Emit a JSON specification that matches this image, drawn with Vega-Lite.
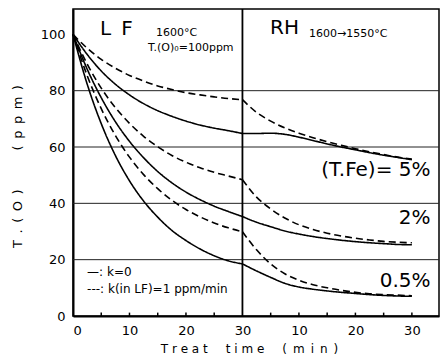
{
  "$schema": "https://vega.github.io/schema/vega-lite/v6.json",
  "width": 366,
  "height": 307,
  "autosize": {"type": "none"},
  "padding": {"left": 73, "top": 9, "right": 2, "bottom": 42},
  "background": "white",
  "config": {
    "view": {"stroke": "black", "strokeWidth": 1.5},
    "font": "DejaVu Sans",
    "axis": {"labelFont": "DejaVu Sans", "titleFont": "DejaVu Sans", "labelColor": "black", "titleColor": "black", "grid": false, "domainColor": "black", "tickColor": "black"}
  },
  "datasets": {
    "curves": [
      {"s":"s5","p":"LF","d":"solid","t":0,"v":100},{"s":"s5","p":"LF","d":"solid","t":2.5,"v":92.9},{"s":"s5","p":"LF","d":"solid","t":5,"v":87.0},{"s":"s5","p":"LF","d":"solid","t":7.5,"v":82.3},{"s":"s5","p":"LF","d":"solid","t":10,"v":78.5},{"s":"s5","p":"LF","d":"solid","t":12.5,"v":75.4},{"s":"s5","p":"LF","d":"solid","t":15,"v":72.9},{"s":"s5","p":"LF","d":"solid","t":17.5,"v":70.9},{"s":"s5","p":"LF","d":"solid","t":20,"v":69.2},{"s":"s5","p":"LF","d":"solid","t":22.5,"v":67.8},{"s":"s5","p":"LF","d":"solid","t":25,"v":66.7},{"s":"s5","p":"LF","d":"solid","t":27.5,"v":65.8},{"s":"s5","p":"LF","d":"solid","t":30,"v":64.8},
      {"s":"s5","p":"RH","d":"solid","t":30,"v":64.8},{"s":"s5","p":"RH","d":"solid","t":32.5,"v":64.8},{"s":"s5","p":"RH","d":"solid","t":35,"v":64.9},{"s":"s5","p":"RH","d":"solid","t":37.5,"v":64.5},{"s":"s5","p":"RH","d":"solid","t":40,"v":63.5},{"s":"s5","p":"RH","d":"solid","t":42.5,"v":62.3},{"s":"s5","p":"RH","d":"solid","t":45,"v":61.1},{"s":"s5","p":"RH","d":"solid","t":47.5,"v":60.0},{"s":"s5","p":"RH","d":"solid","t":50,"v":59.0},{"s":"s5","p":"RH","d":"solid","t":52.5,"v":58.0},{"s":"s5","p":"RH","d":"solid","t":55,"v":57.1},{"s":"s5","p":"RH","d":"solid","t":57.5,"v":56.3},{"s":"s5","p":"RH","d":"solid","t":60,"v":55.5},
      {"s":"d5","p":"LF","d":"dashed","t":0,"v":100},{"s":"d5","p":"LF","d":"dashed","t":2.5,"v":95.1},{"s":"d5","p":"LF","d":"dashed","t":5,"v":91.1},{"s":"d5","p":"LF","d":"dashed","t":7.5,"v":88.0},{"s":"d5","p":"LF","d":"dashed","t":10,"v":85.4},{"s":"d5","p":"LF","d":"dashed","t":12.5,"v":83.4},{"s":"d5","p":"LF","d":"dashed","t":15,"v":81.7},{"s":"d5","p":"LF","d":"dashed","t":17.5,"v":80.4},{"s":"d5","p":"LF","d":"dashed","t":20,"v":79.3},{"s":"d5","p":"LF","d":"dashed","t":22.5,"v":78.5},{"s":"d5","p":"LF","d":"dashed","t":25,"v":77.8},{"s":"d5","p":"LF","d":"dashed","t":27.5,"v":77.2},{"s":"d5","p":"LF","d":"dashed","t":30,"v":76.8},
      {"s":"d5","p":"RH","d":"dashed","t":30,"v":76.8},{"s":"d5","p":"RH","d":"dashed","t":32.5,"v":72.3},{"s":"d5","p":"RH","d":"dashed","t":35,"v":69.2},{"s":"d5","p":"RH","d":"dashed","t":37.5,"v":66.8},{"s":"d5","p":"RH","d":"dashed","t":40,"v":64.9},{"s":"d5","p":"RH","d":"dashed","t":42.5,"v":63.3},{"s":"d5","p":"RH","d":"dashed","t":45,"v":61.9},{"s":"d5","p":"RH","d":"dashed","t":47.5,"v":60.6},{"s":"d5","p":"RH","d":"dashed","t":50,"v":59.4},{"s":"d5","p":"RH","d":"dashed","t":52.5,"v":58.3},{"s":"d5","p":"RH","d":"dashed","t":55,"v":57.3},{"s":"d5","p":"RH","d":"dashed","t":57.5,"v":56.4},{"s":"d5","p":"RH","d":"dashed","t":60,"v":55.7},
      {"s":"s2","p":"LF","d":"solid","t":0,"v":100},{"s":"s2","p":"LF","d":"solid","t":2.5,"v":87.7},{"s":"s2","p":"LF","d":"solid","t":5,"v":77.5},{"s":"s2","p":"LF","d":"solid","t":7.5,"v":69.0},{"s":"s2","p":"LF","d":"solid","t":10,"v":62.0},{"s":"s2","p":"LF","d":"solid","t":12.5,"v":56.2},{"s":"s2","p":"LF","d":"solid","t":15,"v":51.3},{"s":"s2","p":"LF","d":"solid","t":17.5,"v":47.3},{"s":"s2","p":"LF","d":"solid","t":20,"v":44.0},{"s":"s2","p":"LF","d":"solid","t":22.5,"v":41.3},{"s":"s2","p":"LF","d":"solid","t":25,"v":39.0},{"s":"s2","p":"LF","d":"solid","t":27.5,"v":37.1},{"s":"s2","p":"LF","d":"solid","t":30,"v":35.3},
      {"s":"s2","p":"RH","d":"solid","t":30,"v":35.3},{"s":"s2","p":"RH","d":"solid","t":32.5,"v":33.3},{"s":"s2","p":"RH","d":"solid","t":35,"v":31.7},{"s":"s2","p":"RH","d":"solid","t":37.5,"v":30.2},{"s":"s2","p":"RH","d":"solid","t":40,"v":29.1},{"s":"s2","p":"RH","d":"solid","t":42.5,"v":28.2},{"s":"s2","p":"RH","d":"solid","t":45,"v":27.5},{"s":"s2","p":"RH","d":"solid","t":47.5,"v":26.9},{"s":"s2","p":"RH","d":"solid","t":50,"v":26.4},{"s":"s2","p":"RH","d":"solid","t":52.5,"v":26.0},{"s":"s2","p":"RH","d":"solid","t":55,"v":25.7},{"s":"s2","p":"RH","d":"solid","t":57.5,"v":25.4},{"s":"s2","p":"RH","d":"solid","t":60,"v":25.3},
      {"s":"d2","p":"LF","d":"dashed","t":0,"v":100},{"s":"d2","p":"LF","d":"dashed","t":2.5,"v":89.5},{"s":"d2","p":"LF","d":"dashed","t":5,"v":80.9},{"s":"d2","p":"LF","d":"dashed","t":7.5,"v":74.0},{"s":"d2","p":"LF","d":"dashed","t":10,"v":68.4},{"s":"d2","p":"LF","d":"dashed","t":12.5,"v":63.8},{"s":"d2","p":"LF","d":"dashed","t":15,"v":60.1},{"s":"d2","p":"LF","d":"dashed","t":17.5,"v":57.0},{"s":"d2","p":"LF","d":"dashed","t":20,"v":54.6},{"s":"d2","p":"LF","d":"dashed","t":22.5,"v":52.6},{"s":"d2","p":"LF","d":"dashed","t":25,"v":51.0},{"s":"d2","p":"LF","d":"dashed","t":27.5,"v":49.7},{"s":"d2","p":"LF","d":"dashed","t":30,"v":48.4},
      {"s":"d2","p":"RH","d":"dashed","t":30,"v":48.4},{"s":"d2","p":"RH","d":"dashed","t":32.5,"v":42.2},{"s":"d2","p":"RH","d":"dashed","t":35,"v":38.0},{"s":"d2","p":"RH","d":"dashed","t":37.5,"v":34.8},{"s":"d2","p":"RH","d":"dashed","t":40,"v":32.4},{"s":"d2","p":"RH","d":"dashed","t":42.5,"v":30.7},{"s":"d2","p":"RH","d":"dashed","t":45,"v":29.4},{"s":"d2","p":"RH","d":"dashed","t":47.5,"v":28.4},{"s":"d2","p":"RH","d":"dashed","t":50,"v":27.6},{"s":"d2","p":"RH","d":"dashed","t":52.5,"v":27.0},{"s":"d2","p":"RH","d":"dashed","t":55,"v":26.5},{"s":"d2","p":"RH","d":"dashed","t":57.5,"v":26.2},{"s":"d2","p":"RH","d":"dashed","t":60,"v":26.0},
      {"s":"s05","p":"LF","d":"solid","t":0,"v":100},{"s":"s05","p":"LF","d":"solid","t":2.5,"v":82.4},{"s":"s05","p":"LF","d":"solid","t":5,"v":68.3},{"s":"s05","p":"LF","d":"solid","t":7.5,"v":57.0},{"s":"s05","p":"LF","d":"solid","t":10,"v":48.0},{"s":"s05","p":"LF","d":"solid","t":12.5,"v":40.8},{"s":"s05","p":"LF","d":"solid","t":15,"v":35.1},{"s":"s05","p":"LF","d":"solid","t":17.5,"v":30.4},{"s":"s05","p":"LF","d":"solid","t":20,"v":26.8},{"s":"s05","p":"LF","d":"solid","t":22.5,"v":23.8},{"s":"s05","p":"LF","d":"solid","t":25,"v":21.4},{"s":"s05","p":"LF","d":"solid","t":27.5,"v":19.6},{"s":"s05","p":"LF","d":"solid","t":30,"v":18.5},
      {"s":"s05","p":"RH","d":"solid","t":30,"v":18.5},{"s":"s05","p":"RH","d":"solid","t":32.5,"v":16.0},{"s":"s05","p":"RH","d":"solid","t":35,"v":13.7},{"s":"s05","p":"RH","d":"solid","t":37.5,"v":11.6},{"s":"s05","p":"RH","d":"solid","t":40,"v":10.3},{"s":"s05","p":"RH","d":"solid","t":42.5,"v":9.5},{"s":"s05","p":"RH","d":"solid","t":45,"v":8.9},{"s":"s05","p":"RH","d":"solid","t":47.5,"v":8.4},{"s":"s05","p":"RH","d":"solid","t":50,"v":8.0},{"s":"s05","p":"RH","d":"solid","t":52.5,"v":7.6},{"s":"s05","p":"RH","d":"solid","t":55,"v":7.3},{"s":"s05","p":"RH","d":"solid","t":57.5,"v":7.1},{"s":"s05","p":"RH","d":"solid","t":60,"v":7.0},
      {"s":"d05","p":"LF","d":"dashed","t":0,"v":100},{"s":"d05","p":"LF","d":"dashed","t":2.5,"v":85.4},{"s":"d05","p":"LF","d":"dashed","t":5,"v":73.6},{"s":"d05","p":"LF","d":"dashed","t":7.5,"v":64.1},{"s":"d05","p":"LF","d":"dashed","t":10,"v":56.4},{"s":"d05","p":"LF","d":"dashed","t":12.5,"v":50.2},{"s":"d05","p":"LF","d":"dashed","t":15,"v":45.2},{"s":"d05","p":"LF","d":"dashed","t":17.5,"v":41.1},{"s":"d05","p":"LF","d":"dashed","t":20,"v":37.8},{"s":"d05","p":"LF","d":"dashed","t":22.5,"v":35.2},{"s":"d05","p":"LF","d":"dashed","t":25,"v":33.0},{"s":"d05","p":"LF","d":"dashed","t":27.5,"v":31.3},{"s":"d05","p":"LF","d":"dashed","t":30,"v":29.9},
      {"s":"d05","p":"RH","d":"dashed","t":30,"v":29.9},{"s":"d05","p":"RH","d":"dashed","t":32.5,"v":23.5},{"s":"d05","p":"RH","d":"dashed","t":35,"v":18.5},{"s":"d05","p":"RH","d":"dashed","t":37.5,"v":15.0},{"s":"d05","p":"RH","d":"dashed","t":40,"v":12.7},{"s":"d05","p":"RH","d":"dashed","t":42.5,"v":11.1},{"s":"d05","p":"RH","d":"dashed","t":45,"v":10.0},{"s":"d05","p":"RH","d":"dashed","t":47.5,"v":9.1},{"s":"d05","p":"RH","d":"dashed","t":50,"v":8.4},{"s":"d05","p":"RH","d":"dashed","t":52.5,"v":7.9},{"s":"d05","p":"RH","d":"dashed","t":55,"v":7.6},{"s":"d05","p":"RH","d":"dashed","t":57.5,"v":7.4},{"s":"d05","p":"RH","d":"dashed","t":60,"v":7.2}
    ]
  },
  "layer": [
    {
      "data": {"values": [{"g": 20}, {"g": 40}, {"g": 60}, {"g": 80}]},
      "mark": {"type": "rule", "color": "#222", "strokeWidth": 1},
      "encoding": {"y": {"field": "g", "type": "quantitative", "scale": {"domain": [0, 109], "nice": false}}}
    },
    {
      "data": {"values": [{"b": 30}]},
      "mark": {"type": "rule", "color": "black", "strokeWidth": 1.8},
      "encoding": {"x": {"field": "b", "type": "quantitative", "scale": {"domain": [0, 64.8], "nice": false, "zero": false}}}
    },
    {
      "data": {"values": [{"k": 5}, {"k": 10}, {"k": 15}, {"k": 20}, {"k": 25}, {"k": 35}, {"k": 40}, {"k": 45}, {"k": 50}, {"k": 55}, {"k": 60}]},
      "mark": {"type": "rule", "color": "black", "strokeWidth": 1.5},
      "encoding": {
        "x": {"field": "k", "type": "quantitative"},
        "y": {"datum": 0},
        "y2": {"datum": 1.2}
      }
    },
    {
      "data": {"name": "curves"},
      "mark": {"type": "line", "color": "black", "strokeWidth": 1.6, "interpolate": "monotone"},
      "encoding": {
        "x": {
          "field": "t", "type": "quantitative",
          "scale": {"domain": [0, 64.8], "nice": false, "zero": false},
          "axis": {
            "values": [0, 10, 20, 30, 40, 50, 60],
            "labelExpr": "datum.value > 30 ? datum.value - 30 : datum.value",
            "ticks": false, "labelPadding": 8, "labelFontSize": 13,
            "domainWidth": 2,
            "title": "T r e a t\u2003\u2002t i m e\u2003\u2002(\u2002m\u2002i\u2002n\u2002)",
            "titleFontSize": 12, "titleFontWeight": "normal",
            "titleX": 176, "titleY": 32, "titleBaseline": "middle"
          }
        },
        "y": {
          "field": "v", "type": "quantitative",
          "scale": {"domain": [0, 109], "nice": false},
          "axis": {
            "values": [0, 20, 40, 60, 80, 100],
            "ticks": false, "labelPadding": 8, "labelFontSize": 13,
            "domainWidth": 2,
            "title": "T\u2002.\u2002(\u2002O\u2002)\u2003\u2003\u2003(\u2002p\u2002p\u2002m\u2002)",
            "titleFontSize": 13, "titleFontWeight": "normal",
            "titleX": -56, "titleY": 157, "titleAngle": 270, "titleAlign": "center", "titleBaseline": "middle"
          }
        },
        "detail": {"field": "s"},
        "order": {"field": "t"},
        "strokeDash": {"field": "d", "type": "nominal", "scale": {"domain": ["solid", "dashed"], "range": [[1, 0], [7, 4]]}, "legend": null},
        "opacity": {"field": "p", "type": "nominal", "scale": {"domain": ["LF", "RH"], "range": [1, 1]}, "legend": null}
      }
    },
    {
      "data": {"values": [
        {"tx": 4.8, "ty": 102, "label": "L\u2002F"},
        {"tx": 34.9, "ty": 102.3, "label": "RH"}
      ]},
      "mark": {"type": "text", "align": "left", "baseline": "middle", "fontSize": 20, "color": "black"},
      "encoding": {"x": {"field": "tx", "type": "quantitative"}, "y": {"field": "ty", "type": "quantitative"}, "text": {"field": "label"}}
    },
    {
      "data": {"values": [
        {"tx": 63.3, "ty": 51.9, "label": "(T.Fe)= 5%"},
        {"tx": 63.3, "ty": 34.9, "label": "2%"},
        {"tx": 63.3, "ty": 12.6, "label": "0.5%"}
      ]},
      "mark": {"type": "text", "align": "right", "baseline": "middle", "fontSize": 20, "color": "black"},
      "encoding": {"x": {"field": "tx", "type": "quantitative"}, "y": {"field": "ty", "type": "quantitative"}, "text": {"field": "label"}}
    },
    {
      "data": {"values": [
        {"tx": 14.7, "ty": 100.5, "label": "1600°C"},
        {"tx": 13.3, "ty": 95, "label": "T.(O)\u2080=100ppm"},
        {"tx": 41.8, "ty": 100, "label": "1600→1550°C"}
      ]},
      "mark": {"type": "text", "align": "left", "baseline": "middle", "fontSize": 11, "color": "black"},
      "encoding": {"x": {"field": "tx", "type": "quantitative"}, "y": {"field": "ty", "type": "quantitative"}, "text": {"field": "label"}}
    },
    {
      "data": {"values": [
        {"tx": 2.5, "ty": 15.6, "label": "—: k=0"},
        {"tx": 2.5, "ty": 9.7, "label": "---: k(in LF)=1 ppm/min"}
      ]},
      "mark": {"type": "text", "align": "left", "baseline": "middle", "fontSize": 12, "color": "black"},
      "encoding": {"x": {"field": "tx", "type": "quantitative"}, "y": {"field": "ty", "type": "quantitative"}, "text": {"field": "label"}}
    }
  ]
}
